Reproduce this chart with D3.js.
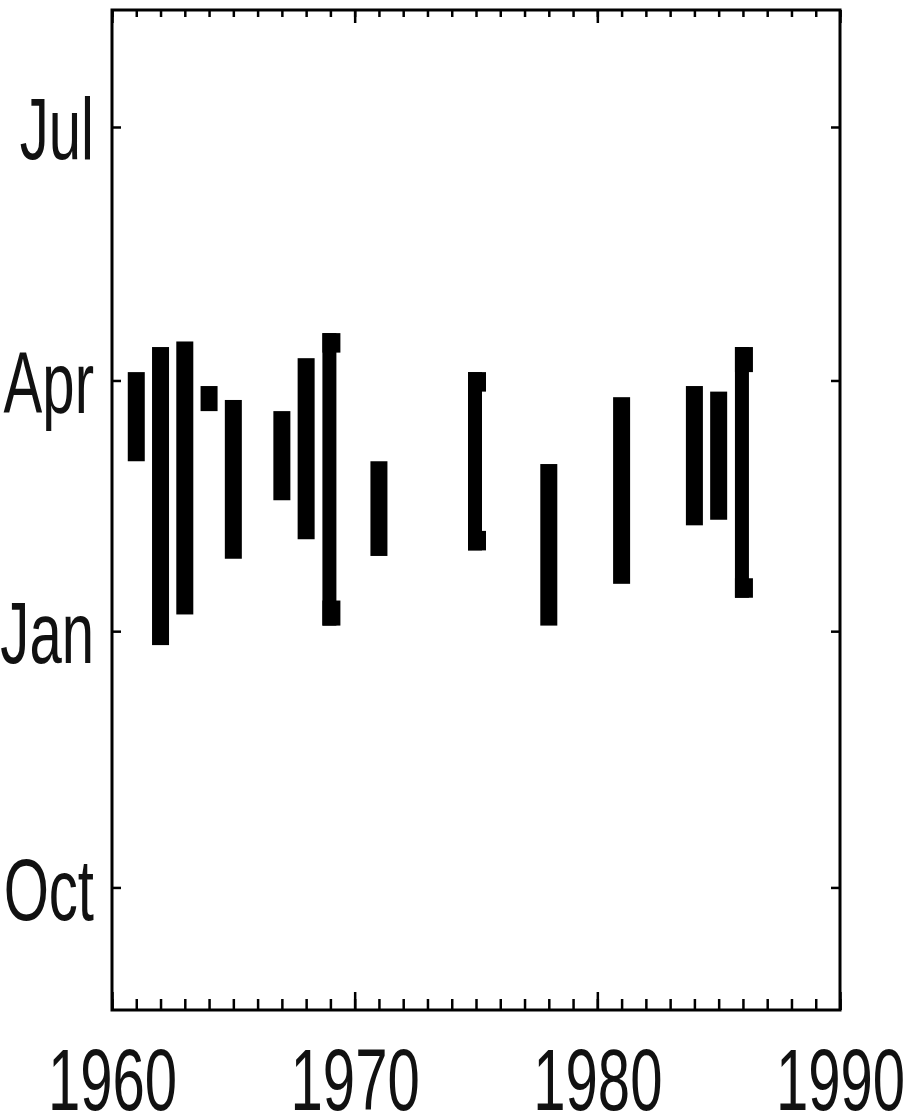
<!DOCTYPE html>
<html>
<head>
<meta charset="utf-8">
<script src="https://cdn.jsdelivr.net/npm/d3@7/dist/d3.min.js"></script>
<style>
  html, body { margin: 0; padding: 0; background: #fff; }
  svg { display: block; }
  text { font-family: "Liberation Sans", Arial, Helvetica, sans-serif; fill: #111; }
</style>
</head>
<body>
<svg id="chart" width="918" height="1117"></svg>
<script>
// Seasonal windows per year, in days relative to 1 January (negative = previous December)
const years      = [1961, 1962, 1963, 1964, 1965, 1967, 1968, 1969, 1971, 1975, 1978, 1981, 1984, 1985, 1986];
const onsetDay   = [  61,   -5,    6,   79,   26,   47,   33,    2,   27,   29,    2,   17,   38,   40,   12];
const endDay     = [  93,  102,  104,   88,   83,   79,   98,  107,   61,   93,   60,   84,   88,   86,  102];

// Years drawn as brackets: inner bounds of the end caps
const bracketYears      = [1969, 1975, 1986];
const bracketInnerOnset = [  11,   36,   19];
const bracketInnerEnd   = [ 100,   86,   93];

// Axis ticks
const yearTicks   = [1960, 1970, 1980, 1990];
const minorYears  = d3.range(1960, 1991);
const monthTicks  = [-92, 0, 90, 181];
const monthLabels = ["Oct", "Jan", "Apr", "Jul"];

const svg = d3.select("#chart");
const plotL = 112, plotR = 840, plotT = 10, plotB = 1010;

const x = d3.scaleLinear().domain([1960, 1990]).range([plotL, plotR]);
const y = d3.scaleLinear().domain([-136, 223]).range([plotB, plotT]);

const FONT = 88, SQUEEZE = 0.66;

function squeezeLabels(g) {
  g.selectAll("text").each(function () {
    const t = d3.select(this);
    const tx = +t.attr("x") || 0;
    t.attr("x", 0).attr("transform", `translate(${tx},0) scale(${SQUEEZE},1)`);
  });
}

function styleTicks(g) {
  g.select(".domain").remove();
  g.selectAll("line").attr("stroke", "#000").attr("stroke-width", 2.5);
  g.selectAll("text").style("font-size", FONT + "px").attr("fill", "#111");
}

// Bottom axis: yearly minor ticks, decade labels
svg.append("g").attr("transform", `translate(0,${plotB})`)
  .call(d3.axisBottom(x).tickValues(minorYears).tickSize(-11).tickFormat(""))
  .call(styleTicks);
svg.append("g").attr("transform", `translate(0,${plotB})`)
  .call(d3.axisBottom(x).tickValues(yearTicks).tickSize(-18).tickPadding(38).tickFormat(d3.format("d")))
  .call(styleTicks).call(squeezeLabels);

// Top axis: ticks only
svg.append("g").attr("transform", `translate(0,${plotT})`)
  .call(d3.axisTop(x).tickValues(minorYears).tickSize(-7).tickFormat(""))
  .call(styleTicks);
svg.append("g").attr("transform", `translate(0,${plotT})`)
  .call(d3.axisTop(x).tickValues(yearTicks).tickSize(-13).tickFormat(""))
  .call(styleTicks);

// Left axis: month labels
svg.append("g").attr("transform", `translate(${plotL},0)`)
  .call(d3.axisLeft(y).tickValues(monthTicks).tickSize(-9).tickPadding(18)
    .tickFormat((d, i) => monthLabels[i]))
  .call(styleTicks)
  .call(g => g.selectAll("text").attr("dy", "0.36em"))
  .call(squeezeLabels);

// Right axis: ticks only
svg.append("g").attr("transform", `translate(${plotR},0)`)
  .call(d3.axisRight(y).tickValues(monthTicks).tickSize(-9).tickFormat(""))
  .call(styleTicks);

// Frame
svg.append("rect")
  .attr("x", plotL).attr("y", plotT)
  .attr("width", plotR - plotL).attr("height", plotB - plotT)
  .attr("fill", "none").attr("stroke", "#000").attr("stroke-width", 3);

const rows = years.map((yr, i) => ({ yr, on: onsetDay[i], off: endDay[i] }));
const plain = rows.filter(r => !bracketYears.includes(r.yr));
const brackets = rows.filter(r => bracketYears.includes(r.yr)).map(r => {
  const k = bracketYears.indexOf(r.yr);
  return Object.assign({}, r, { inOn: bracketInnerOnset[k], inOff: bracketInnerEnd[k] });
});

const BAR_W = 17, STEM_W = 14, CAP_W = 18;
const marks = svg.append("g").attr("fill", "#000");

marks.selectAll("rect.bar").data(plain).join("rect")
  .attr("class", "bar")
  .attr("x", d => x(d.yr) - BAR_W / 2)
  .attr("width", BAR_W)
  .attr("y", d => y(d.off))
  .attr("height", d => y(d.on) - y(d.off));

const br = marks.selectAll("g.bracket").data(brackets).join("g").attr("class", "bracket");
br.append("rect")
  .attr("x", d => x(d.yr) - 8).attr("width", STEM_W)
  .attr("y", d => y(d.off)).attr("height", d => y(d.on) - y(d.off));
br.append("rect")
  .attr("x", d => x(d.yr) - 8).attr("width", CAP_W)
  .attr("y", d => y(d.off)).attr("height", d => y(d.inOff) - y(d.off));
br.append("rect")
  .attr("x", d => x(d.yr) - 8).attr("width", CAP_W)
  .attr("y", d => y(d.inOn)).attr("height", d => y(d.on) - y(d.inOn));
</script>
</body>
</html>
